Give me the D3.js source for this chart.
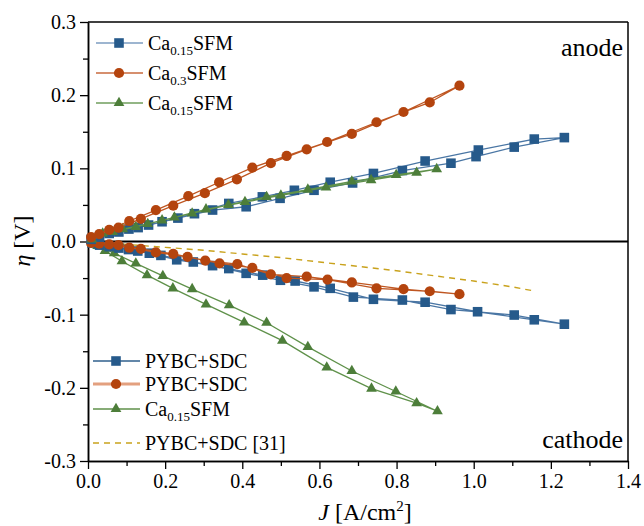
<!DOCTYPE html>
<html>
<head>
<meta charset="utf-8">
<script src="https://cdn.jsdelivr.net/npm/d3@7"></script>
<style>
  html, body { margin: 0; padding: 0; background: #fff; }
  svg { display: block; font-family: "Liberation Serif", "Times New Roman", serif; }
</style>
</head>
<body>
<svg id="chart" width="644" height="526"></svg>
<script>
// tick values
var xTicks = [0, 0.2, 0.4, 0.6, 0.8, 1.0, 1.2, 1.4];
var xMinor = [0.1, 0.3, 0.5, 0.7, 0.9, 1.1, 1.3];
var yTicks = [-0.3, -0.2, -0.1, 0, 0.1, 0.2, 0.3];
var yMinor = [-0.25, -0.15, -0.05, 0.05, 0.15, 0.25];

// anode, points in sweep order (out and back)
var anodeBlueJ = [0.008, 0.055, 0.106, 0.157, 0.233, 0.323, 0.410, 0.498, 0.586, 0.686, 0.815, 0.941, 1.006, 1.105, 1.235,
                  1.157, 1.012, 0.874, 0.740, 0.628, 0.535, 0.452, 0.365, 0.276, 0.192, 0.130, 0.080, 0.030];
var anodeBlueV = [0.003, 0.011, 0.017, 0.0225, 0.032, 0.043, 0.0475, 0.059, 0.070, 0.080, 0.097, 0.107, 0.116, 0.129, 0.142,
                  0.140, 0.125, 0.110, 0.093, 0.081, 0.070, 0.061, 0.052, 0.038, 0.027, 0.019, 0.013, 0.006];

var anodeOrangeJ = [0.008, 0.055, 0.107, 0.176, 0.260, 0.340, 0.426, 0.515, 0.620, 0.748, 0.886, 0.963,
                    0.818, 0.684, 0.567, 0.474, 0.386, 0.303, 0.221, 0.137, 0.079, 0.029];
var anodeOrangeV = [0.006, 0.016, 0.028, 0.043, 0.062, 0.081, 0.101, 0.117, 0.136, 0.163, 0.190, 0.213,
                    0.177, 0.147, 0.126, 0.107, 0.085, 0.066, 0.049, 0.031, 0.019, 0.010];

var anodeGreenJ = [0.010, 0.064, 0.124, 0.192, 0.270, 0.364, 0.463, 0.570, 0.684, 0.799, 0.904,
                   0.852, 0.734, 0.617, 0.500, 0.407, 0.306, 0.224, 0.155, 0.090, 0.038];
var anodeGreenV = [0.003, 0.013, 0.020, 0.029, 0.0385, 0.050, 0.061, 0.071, 0.082, 0.091, 0.099,
                   0.094, 0.084, 0.074, 0.063, 0.054, 0.044, 0.033, 0.024, 0.017, 0.011];

// cathode
var cathBlueJ = [0.010, 0.055, 0.105, 0.159, 0.230, 0.323, 0.410, 0.499, 0.586, 0.688, 0.815, 0.941, 1.105, 1.235,
                 1.157, 1.010, 0.874, 0.740, 0.628, 0.537, 0.453, 0.365, 0.273, 0.189, 0.129, 0.080, 0.030];
var cathBlueV = [-0.002, -0.007, -0.011, -0.016, -0.025, -0.033, -0.0435, -0.053, -0.062, -0.076, -0.080, -0.093, -0.1005, -0.113,
                 -0.107, -0.096, -0.083, -0.079, -0.064, -0.054, -0.046, -0.037, -0.028, -0.019, -0.013, -0.009, -0.005];

var cathOrangeJ = [0.008, 0.055, 0.107, 0.176, 0.258, 0.341, 0.426, 0.515, 0.621, 0.748, 0.886, 0.963,
                   0.818, 0.684, 0.567, 0.474, 0.387, 0.304, 0.221, 0.137, 0.079, 0.029];
var cathOrangeV = [-0.002, -0.004, -0.0085, -0.015, -0.021, -0.030, -0.036, -0.050, -0.052, -0.064, -0.068, -0.072,
                   -0.065, -0.056, -0.048, -0.045, -0.031, -0.026, -0.017, -0.010, -0.005, -0.003];

var cathGreenJ = [0.010, 0.044, 0.088, 0.153, 0.220, 0.306, 0.405, 0.504, 0.619, 0.735, 0.852, 0.906,
                  0.798, 0.684, 0.570, 0.463, 0.366, 0.270, 0.194, 0.124, 0.068, 0.025];
var cathGreenV = [-0.002, -0.013, -0.027, -0.046, -0.064, -0.086, -0.1105, -0.1355, -0.172, -0.201, -0.221, -0.232,
                  -0.205, -0.177, -0.144, -0.111, -0.087, -0.065, -0.047, -0.030, -0.016, -0.006];

// reference [31], dashed
var refJ = [0, 0.1, 0.2, 0.3, 0.4, 0.5, 0.6, 0.7, 0.8, 0.9, 1.0, 1.1, 1.15];
var refV = [0, -0.004, -0.008, -0.012, -0.017, -0.022, -0.028, -0.034, -0.040, -0.047, -0.054, -0.062, -0.067];

var blue = "#265a8b", orange = "#b4440e", green = "#4d7e3a", gold = "#c9a21c";
var blueLine = "#4a76a4", orangeLine = "#bf5621", greenLine = "#5f914a";

var svg = d3.select("#chart");
var mLeft = 88, mRight = 628, mTop = 22, mBottom = 461;

var x = d3.scaleLinear().domain([0, 1.4]).range([mLeft, mRight]);
var y = d3.scaleLinear().domain([-0.3, 0.3]).range([mBottom, mTop]);

var fmt = function(d) { return d.toFixed(1); };

// axes
svg.append("g").attr("transform", "translate(0," + mBottom + ")")
    .call(d3.axisBottom(x).tickValues(xTicks).tickFormat(fmt).tickSizeInner(8).tickSizeOuter(0).tickPadding(5));
svg.append("g").attr("transform", "translate(0," + mBottom + ")")
    .call(d3.axisBottom(x).tickValues(xMinor).tickFormat("").tickSizeInner(5).tickSizeOuter(0));
svg.append("g").attr("transform", "translate(" + mLeft + ",0)")
    .call(d3.axisLeft(y).tickValues(yTicks).tickFormat(fmt).tickSizeInner(8).tickSizeOuter(0).tickPadding(4));
svg.append("g").attr("transform", "translate(" + mLeft + ",0)")
    .call(d3.axisLeft(y).tickValues(yMinor).tickFormat("").tickSizeInner(5).tickSizeOuter(0));

svg.selectAll(".domain").attr("stroke", "#000").attr("stroke-width", 1.5);
svg.selectAll(".tick line").attr("stroke", "#000").attr("stroke-width", 1.3);
svg.selectAll(".tick text").attr("fill", "#000").style("font-size", "20px")
    .style("font-family", "Liberation Serif, serif");

// frame top and right
svg.append("line").attr("x1", mLeft).attr("x2", mRight).attr("y1", mTop).attr("y2", mTop)
    .attr("stroke", "#000").attr("stroke-width", 1.5);
svg.append("line").attr("x1", mRight).attr("x2", mRight).attr("y1", mTop).attr("y2", mBottom)
    .attr("stroke", "#000").attr("stroke-width", 1.5);

// zero line
svg.append("line").attr("x1", mLeft).attr("x2", mRight).attr("y1", y(0)).attr("y2", y(0))
    .attr("stroke", "#000").attr("stroke-width", 2);

function pts(J, V) { return J.map(function(d, i) { return [d, V[i]]; }); }

var line = d3.line().x(function(d) { return x(d[0]); }).y(function(d) { return y(d[1]); });

var sq = d3.symbol().type(d3.symbolSquare).size(92);
var ci = d3.symbol().type(d3.symbolCircle).size(82);
var tr = d3.symbol().type(d3.symbolTriangle).size(50);

var series = [
  { d: pts(refJ, refV), color: gold, lc: gold, sym: null, dash: "6,5" },
  { d: pts(cathGreenJ, cathGreenV), color: green, lc: greenLine, sym: tr },
  { d: pts(cathBlueJ, cathBlueV), color: blue, lc: blueLine, sym: sq },
  { d: pts(cathOrangeJ, cathOrangeV), color: orange, lc: orangeLine, sym: ci },
  { d: pts(anodeBlueJ, anodeBlueV), color: blue, lc: blueLine, sym: sq },
  { d: pts(anodeGreenJ, anodeGreenV), color: green, lc: greenLine, sym: tr },
  { d: pts(anodeOrangeJ, anodeOrangeV), color: orange, lc: orangeLine, sym: ci }
];

series.forEach(function(s) {
  svg.append("path").datum(s.d)
      .attr("d", line)
      .attr("fill", "none")
      .attr("stroke", s.lc)
      .attr("stroke-width", s.sym ? 1.3 : 1.4)
      .attr("stroke-dasharray", s.dash || null);
  if (s.sym) {
    svg.append("g").selectAll("path").data(s.d).join("path")
        .attr("d", s.sym)
        .attr("transform", function(d) { return "translate(" + x(d[0]) + "," + y(d[1]) + ")"; })
        .attr("fill", s.color);
  }
});

// legends
function legendRow(lx, ly, color, lc, lw, sym, dash, label, sub, rest) {
  var g = svg.append("g");
  g.append("line").attr("x1", lx).attr("x2", lx + 47).attr("y1", ly).attr("y2", ly)
      .attr("stroke", lc).attr("stroke-width", lw).attr("stroke-dasharray", dash || null);
  if (sym) {
    g.append("path").attr("d", sym).attr("fill", color)
        .attr("transform", "translate(" + (lx + 23) + "," + ly + ")");
  }
  var t = g.append("text").attr("x", lx + 52).attr("y", ly + 6.5)
      .style("font-size", "20px").attr("fill", "#000");
  t.append("tspan").text(label);
  if (sub) {
    t.append("tspan").attr("dy", 5).style("font-size", "13px").text(sub);
    t.append("tspan").attr("dy", -5).text(rest);
  }
}

legendRow(96, 43, blue, "#7d9cc0", 1.5, sq, null, "Ca", "0.15", "SFM");
legendRow(96, 73, orange, "#c86a3e", 1.5, ci, null, "Ca", "0.3", "SFM");
legendRow(96, 103, green, "#6f9e5c", 1.5, tr, null, "Ca", "0.15", "SFM");

legendRow(93, 361, blue, "#2f5f8d", 1.5, sq, null, "PYBC+SDC");
legendRow(93, 384, orange, "#e3a07f", 3, ci, null, "PYBC+SDC");
legendRow(93, 409, green, "#5f914a", 1.3, tr, null, "Ca", "0.15", "SFM");
legendRow(93, 443, gold, gold, 1.4, null, "6,5", "PYBC+SDC [31]");

// region labels
svg.append("text").attr("x", 623).attr("y", 56).attr("text-anchor", "end")
    .style("font-size", "26px").text("anode");
svg.append("text").attr("x", 623).attr("y", 448).attr("text-anchor", "end")
    .style("font-size", "26px").text("cathode");

// axis titles
var xt = svg.append("text").attr("x", 365).attr("y", 520).attr("text-anchor", "middle")
    .style("font-size", "24px");
xt.append("tspan").style("font-style", "italic").text("J");
xt.append("tspan").text(" [A/cm");
xt.append("tspan").attr("dy", -9).style("font-size", "15px").text("2");
xt.append("tspan").attr("dy", 9).text("]");

var yt = svg.append("text").attr("transform", "translate(30,241) rotate(-90)")
    .attr("text-anchor", "middle").style("font-size", "24px");
yt.append("tspan").style("font-style", "italic").text("η");
yt.append("tspan").text(" [V]");
</script>
</body>
</html>
